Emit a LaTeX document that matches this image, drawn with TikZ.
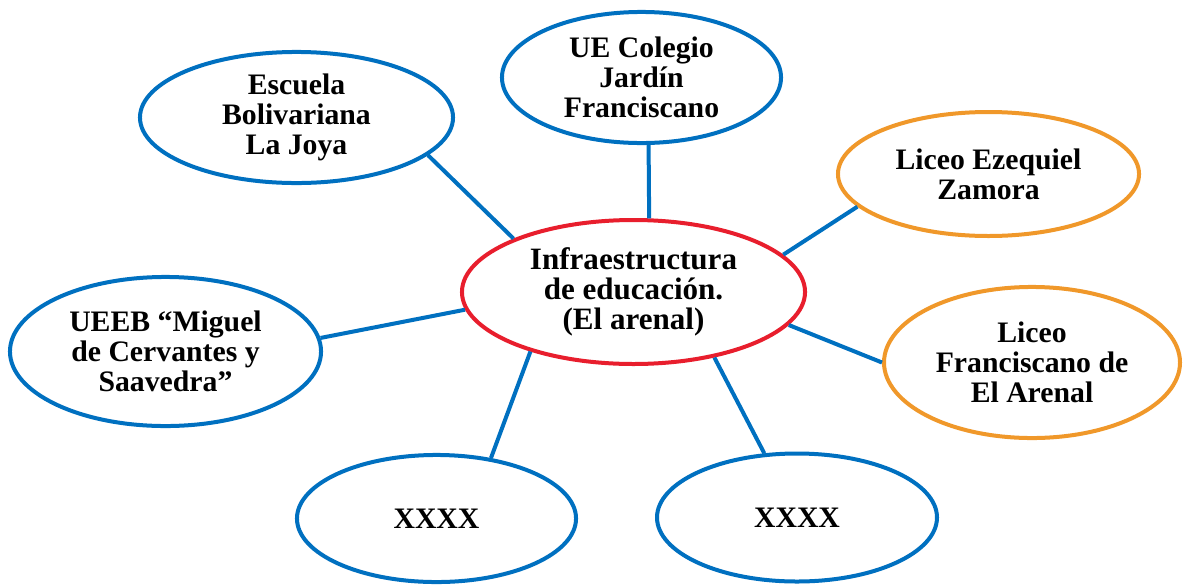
\documentclass[tikz,border=0pt]{standalone}
\usepackage{fontspec}
\setmainfont{Liberation Serif}
\usetikzlibrary{shapes.geometric}
\definecolor{azul}{RGB}{0,112,192}
\definecolor{rojo}{RGB}{232,30,45}
\definecolor{naranja}{RGB}{240,152,42}

\begin{document}
\begin{tikzpicture}[x=0.75pt,y=-0.75pt,
  elip/.style={ellipse,draw=azul,line width=3pt,fill=white,inner sep=-40pt,align=center,
    font=\fontsize{22.3}{22.5}\selectfont\bfseries},
  enlace/.style={draw=azul,line width=3pt}]
\useasboundingbox (0,0) rectangle (1184,586);
% centro
\node[elip,draw=rojo,minimum width=257.3pt,minimum height=108pt,
  font=\fontsize{23.3}{22.5}\selectfont\bfseries] (centro) at (633.5,292) {Infraestructura\\de educación.\\(El arenal)};
% escuelas
\node[elip,minimum width=234.8pt,minimum height=98.3pt] (esc) at (296.5,117.5) {Escuela\\Bolivariana\\La Joya};
\node[elip,minimum width=209.3pt,minimum height=98.3pt] (ueco) at (641.5,77.5) {UE Colegio\\Jardín\\Franciscano};
\node[elip,draw=naranja,minimum width=225.8pt,minimum height=93pt] (lez) at (988.5,174) {Liceo Ezequiel\\Zamora};
\node[elip,minimum width=233.3pt,minimum height=111.8pt] (ueeb) at (165.5,351.5) {UEEB “Miguel\\de Cervantes y\\Saavedra”};
\node[elip,draw=naranja,minimum width=222pt,minimum height=113.3pt] (lfr) at (1032,362.5) {Liceo\\Franciscano de\\El Arenal};
\node[elip,minimum width=209.3pt,minimum height=95.3pt] (xl) at (436.5,518.5) {XXXX};
\node[elip,minimum width=210pt,minimum height=96pt] (xr) at (797,517.5) {XXXX};
% enlaces
\draw[enlace] (esc.-16) -- (centro.156);
\draw[enlace] (ueco.-84) -- (centro.78);
\draw[enlace] (lez.-166) -- (centro.14);
\draw[enlace] (ueeb.5) -- (centro.186);
\draw[enlace] (lfr.180) -- (centro.-12);
\draw[enlace] (xl.48) -- (centro.-150);
\draw[enlace] (xr.117) -- (centro.-39);
\end{tikzpicture}
\end{document}
